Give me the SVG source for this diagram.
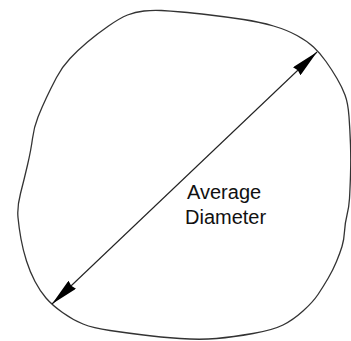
<svg xmlns="http://www.w3.org/2000/svg" width="351" height="341" viewBox="0 0 351 341">
  <style>
    .outline { fill: none; stroke: #333333; stroke-width: 1.3; stroke-linejoin: round; }
    .dim { fill: none; stroke: #222222; stroke-width: 1.1; }
    .label { font-family: "Liberation Sans", Arial, sans-serif; font-size: 20px; fill: #111111; }
  </style>
  <defs>
    <marker id="arrow" viewBox="0 0 28 11" refX="28" refY="5.5" markerWidth="28" markerHeight="11" markerUnits="userSpaceOnUse" orient="auto-start-reverse">
      <path d="M0,0 L28,5.5 L0,11 L1.5,5.5 Z" fill="#000000"/>
    </marker>
  </defs>
  <rect width="351" height="341" fill="#ffffff"/>
  <g id="particle">
    <path class="outline" d="M144,11 Q153,10 161.5,10.5 Q170,11 181.5,12 Q193,13 210,15 Q227,17 243.5,19.5 Q260,22 273.5,26 Q287,30 297,35.5 Q307,41 313.5,47 Q320,53 326,61.5 Q332,70 337,78.5 Q342,87 345,95 Q348,103 349,116.5 Q350,130 350.5,145 Q351,160 350.5,175 Q350,190 349.5,198.5 Q349,207 347,215 Q345,223 344.5,231.5 Q344,240 342,246.5 Q340,253 336.5,261.5 Q333,270 328,278.5 Q323,287 318,294.5 Q313,302 303,311 Q293,320 283,325 Q273,330 253,333.5 Q233,337 216.5,338.5 Q200,340 180,338.5 Q160,337 143.5,335 Q127,333 110,330.5 Q93,328 83,324 Q73,320 62.5,312.5 Q52,305 46,298 Q40,291 35,281.5 Q30,272 26.5,261 Q23,250 21,239 Q19,228 18,217.5 Q17,207 20.5,193.5 Q24,180 27.5,165 Q31,150 32.5,138.5 Q34,127 38,117 Q42,107 46.5,97.5 Q51,88 56.5,77.5 Q62,67 70,58.5 Q78,50 87.5,42 Q97,34 108.5,26 Q120,18 127.5,15 Q135,12 144,11 Z"/>
  </g>
  <g id="connectors">
    <line class="dim" x1="52" y1="304" x2="317" y2="52" marker-start="url(#arrow)" marker-end="url(#arrow)"/>
  </g>
  <g id="label">
    <text class="label" x="187" y="199">Average</text>
    <text class="label" x="185" y="224">Diameter</text>
  </g>
</svg>
